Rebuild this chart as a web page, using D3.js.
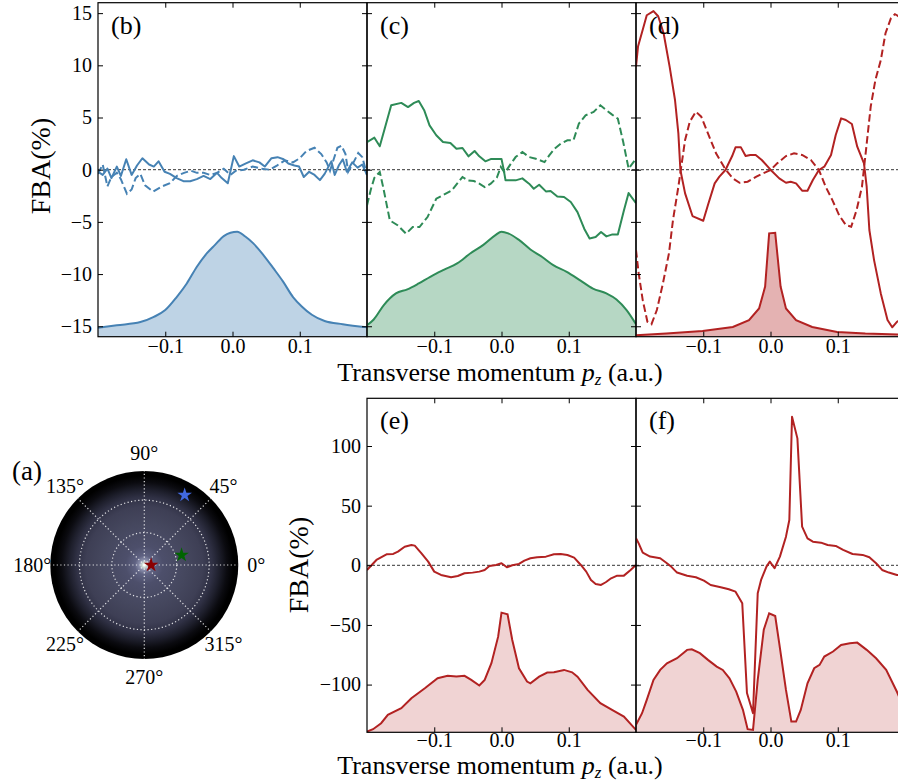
<!DOCTYPE html>
<html>
<head>
<meta charset="utf-8">
<script src="https://cdn.jsdelivr.net/npm/d3@7"></script>
<style>
  body { margin: 0; background: #fff; }
  svg { display: block; }
  text { font-family: "Liberation Serif", "Times New Roman", serif; fill: #000; }
  .tick text { font-size: 20px; font-family: "Liberation Serif", "Times New Roman", serif; }
</style>
</head>
<body>
<svg id="fig" width="898" height="782"></svg>
<script>
// ---- Forward–backward asymmetry (FBA, %) versus transverse momentum p_z (a.u.) ----
// Each series is a list of [p_z, value] pairs.

// (b) blue direction
const bSolid = [[-0.200,-0.2],[-0.193,-0.5],[-0.186,0.1],[-0.180,-0.8],[-0.172,0.3],[-0.166,-0.6],[-0.158,1.0],[-0.150,-0.5],[-0.142,0.4],[-0.134,1.1],[-0.124,0.5],[-0.117,0.3],[-0.110,0.8],[-0.101,-0.2],[-0.093,-0.4],[-0.083,-0.8],[-0.073,-1.1],[-0.063,-1.1],[-0.053,-0.9],[-0.043,-0.6],[-0.033,-0.9],[-0.023,-0.3],[-0.016,-0.8],[-0.007,-1.3],[0.002,1.3],[0.010,0.3],[0.020,0.6],[0.030,0.9],[0.040,0.7],[0.048,0.3],[0.058,1.1],[0.067,1.2],[0.076,1.0],[0.083,0.6],[0.092,0.4],[0.099,0.3],[0.106,-0.7],[0.114,-0.2],[0.122,-0.5],[0.130,-1.0],[0.137,-0.4],[0.147,0.8],[0.152,-0.5],[0.158,0.4],[0.164,1.0],[0.170,-0.2],[0.178,0.7],[0.186,0.2],[0.193,0.5],[0.200,-0.5]];
const bDashed = [[-0.200,-0.4],[-0.193,0.5],[-0.186,-1.6],[-0.180,-0.7],[-0.172,-0.3],[-0.166,-0.9],[-0.157,-2.3],[-0.150,-1.9],[-0.144,-0.8],[-0.137,-0.4],[-0.130,-1.5],[-0.118,-2.1],[-0.105,-1.6],[-0.093,-1.3],[-0.083,-0.6],[-0.072,-0.3],[-0.062,-0.1],[-0.053,-0.3],[-0.043,-0.3],[-0.033,-0.5],[-0.023,-0.3],[-0.013,0.1],[-0.003,-0.5],[0.005,-0.1],[0.017,0.0],[0.030,0.3],[0.043,0.1],[0.055,0.0],[0.066,0.4],[0.078,0.9],[0.090,0.7],[0.100,1.1],[0.110,1.8],[0.122,2.1],[0.132,1.5],[0.140,0.7],[0.145,-0.1],[0.150,0.9],[0.156,2.1],[0.162,2.3],[0.168,1.5],[0.172,-0.2],[0.180,0.7],[0.187,1.6],[0.193,1.2],[0.200,-0.5]];
const bDensity = [[-0.200,-15.15],[-0.172,-14.9],[-0.137,-14.6],[-0.117,-14.1],[-0.100,-13.45],[-0.083,-12.2],[-0.068,-10.9],[-0.053,-9.3],[-0.038,-8.0],[-0.026,-7.2],[-0.013,-6.36],[-0.003,-6.04],[0.007,-5.94],[0.019,-6.4],[0.031,-7.06],[0.046,-8.18],[0.061,-9.46],[0.075,-10.7],[0.090,-12.2],[0.103,-13.1],[0.118,-13.9],[0.137,-14.5],[0.164,-14.8],[0.200,-15.1]];

// (c) green direction
const cSolid = [[-0.200,2.65],[-0.189,3.07],[-0.181,2.24],[-0.173,4.09],[-0.164,6.17],[-0.149,6.4],[-0.139,6.0],[-0.130,6.4],[-0.123,6.58],[-0.115,5.7],[-0.107,4.25],[-0.097,3.3],[-0.087,2.65],[-0.076,2.56],[-0.067,2.0],[-0.058,2.08],[-0.049,1.28],[-0.040,1.79],[-0.033,1.28],[-0.024,0.8],[-0.016,1.02],[0.000,1.02],[0.003,0.1],[0.006,-1.02],[0.021,-1.02],[0.031,-0.83],[0.041,-1.34],[0.048,-1.82],[0.056,-1.44],[0.066,-2.08],[0.073,-2.04],[0.083,-2.56],[0.093,-2.62],[0.103,-3.1],[0.113,-4.06],[0.123,-5.65],[0.131,-6.6],[0.140,-6.45],[0.148,-5.97],[0.156,-6.39],[0.165,-6.2],[0.173,-6.2],[0.182,-3.9],[0.189,-2.24],[0.200,-3.2]];
const cDashed = [[-0.200,-3.42],[-0.194,-1.82],[-0.189,-0.77],[-0.181,-0.22],[-0.176,-1.66],[-0.166,-4.86],[-0.154,-5.34],[-0.142,-6.13],[-0.132,-5.5],[-0.122,-5.5],[-0.110,-4.54],[-0.097,-2.78],[-0.085,-2.36],[-0.074,-1.98],[-0.066,-1.34],[-0.058,-0.7],[-0.050,-1.02],[-0.041,-1.09],[-0.033,-1.34],[-0.025,-1.66],[-0.016,-1.34],[-0.007,-0.77],[-0.001,0.26],[0.005,-0.3],[0.014,0.58],[0.021,1.21],[0.031,1.69],[0.041,1.21],[0.051,1.05],[0.064,0.73],[0.071,1.37],[0.079,2.01],[0.088,2.49],[0.098,2.81],[0.107,2.81],[0.115,4.41],[0.125,5.21],[0.137,5.53],[0.147,6.17],[0.155,5.75],[0.164,5.3],[0.173,4.89],[0.181,2.65],[0.189,0.1],[0.200,1.05]];
const cDensity = [[-0.200,-14.9],[-0.190,-14.35],[-0.175,-12.97],[-0.157,-11.85],[-0.140,-11.47],[-0.123,-10.9],[-0.106,-10.26],[-0.086,-9.6],[-0.066,-8.98],[-0.046,-8.0],[-0.027,-7.2],[-0.009,-6.26],[0.000,-5.94],[0.010,-6.1],[0.025,-6.68],[0.043,-7.64],[0.060,-8.34],[0.077,-9.14],[0.097,-9.78],[0.117,-10.6],[0.136,-11.4],[0.156,-11.85],[0.171,-12.43],[0.186,-13.45],[0.200,-14.8]];

// (d) red direction, weak field
const dSolid = [[-0.200,9.87],[-0.197,11.8],[-0.190,13.4],[-0.184,14.8],[-0.174,15.2],[-0.167,14.7],[-0.159,13.1],[-0.150,9.87],[-0.142,6.68],[-0.137,3.48],[-0.134,-0.03],[-0.127,-2.27],[-0.116,-4.44],[-0.100,-4.89],[-0.093,-3.39],[-0.083,-1.31],[-0.076,-0.67],[-0.067,-0.03],[-0.057,1.31],[-0.052,2.14],[-0.044,2.14],[-0.037,1.31],[-0.030,1.41],[-0.022,1.41],[-0.013,0.93],[0.000,0.0],[0.013,-0.83],[0.023,-1.25],[0.030,-1.15],[0.038,-1.31],[0.047,-2.01],[0.055,-2.01],[0.063,-0.99],[0.072,-0.03],[0.080,0.29],[0.090,1.41],[0.097,3.32],[0.105,4.92],[0.112,4.76],[0.121,4.38],[0.129,2.2],[0.139,0.61],[0.143,-1.63],[0.147,-5.78],[0.154,-8.66],[0.164,-11.85],[0.174,-14.4],[0.181,-15.1],[0.188,-14.57],[0.200,-14.1]];
const dDashed = [[-0.200,-7.7],[-0.196,-9.94],[-0.190,-12.5],[-0.183,-14.57],[-0.177,-14.8],[-0.169,-13.45],[-0.160,-10.9],[-0.151,-8.02],[-0.145,-4.82],[-0.137,-1.63],[-0.132,0.61],[-0.127,2.84],[-0.120,4.6],[-0.111,5.56],[-0.103,5.08],[-0.093,3.48],[-0.081,1.57],[-0.067,0.03],[-0.056,-0.83],[-0.046,-1.25],[-0.034,-1.15],[-0.021,-0.67],[-0.011,-0.35],[0.000,-0.03],[0.010,0.61],[0.023,1.31],[0.035,1.57],[0.047,1.41],[0.060,0.93],[0.072,-0.03],[0.082,-1.63],[0.092,-2.91],[0.102,-4.35],[0.112,-5.3],[0.120,-5.46],[0.128,-3.87],[0.136,-1.63],[0.142,1.88],[0.149,6.04],[0.156,8.6],[0.164,10.5],[0.171,13.07],[0.179,14.5],[0.185,14.9],[0.188,14.8],[0.200,14.2]];
const dDensity = [[-0.200,-15.87],[-0.155,-15.7],[-0.101,-15.45],[-0.056,-15.07],[-0.032,-14.42],[-0.017,-13.3],[-0.008,-11.2],[-0.002,-6.1],[0.007,-6.05],[0.015,-11.2],[0.023,-13.3],[0.038,-14.42],[0.062,-15.07],[0.099,-15.55],[0.141,-15.7],[0.200,-15.82]];

// (e) red direction, stronger field
const eLine = [[-0.200,-3.9],[-0.186,4.47],[-0.171,9.2],[-0.161,9.5],[-0.154,11.45],[-0.144,15.6],[-0.134,17.0],[-0.129,16.5],[-0.119,10.05],[-0.109,3.07],[-0.100,-5.3],[-0.090,-8.1],[-0.075,-10.05],[-0.065,-8.94],[-0.055,-6.7],[-0.043,-6.14],[-0.033,-5.3],[-0.025,-3.9],[-0.018,-0.56],[-0.008,0.28],[0.000,1.68],[0.008,-1.68],[0.016,0.0],[0.026,1.12],[0.034,3.9],[0.043,5.87],[0.053,6.7],[0.066,7.26],[0.078,9.2],[0.088,9.5],[0.098,8.66],[0.108,6.42],[0.118,0.28],[0.126,-5.3],[0.133,-12.3],[0.140,-15.6],[0.148,-16.5],[0.155,-14.2],[0.163,-10.9],[0.172,-8.66],[0.182,-8.66],[0.192,-3.9],[0.200,0.28]];
const eDensity = [[-0.200,-139.4],[-0.191,-137.4],[-0.179,-132.4],[-0.169,-125.4],[-0.149,-119.8],[-0.134,-111.4],[-0.114,-103.1],[-0.095,-94.7],[-0.080,-92.7],[-0.067,-93.3],[-0.055,-92.7],[-0.045,-96.1],[-0.033,-100.8],[-0.025,-96.1],[-0.015,-82.1],[-0.005,-59.8],[0.000,-39.7],[0.009,-41.1],[0.016,-62.6],[0.026,-86.3],[0.038,-97.5],[0.043,-98.9],[0.056,-93.3],[0.068,-89.9],[0.078,-89.7],[0.093,-87.7],[0.105,-89.7],[0.113,-93.3],[0.128,-104.5],[0.147,-115.6],[0.167,-122.1],[0.182,-126.8],[0.200,-138]];

// (f) red direction, strongest field
const fLine = [[-0.200,22.6],[-0.196,18.4],[-0.190,10.6],[-0.179,7.3],[-0.164,5.9],[-0.154,1.7],[-0.147,-1.5],[-0.139,-6.1],[-0.124,-8.7],[-0.111,-10.0],[-0.099,-12.9],[-0.089,-16.5],[-0.074,-18.4],[-0.062,-20.1],[-0.052,-22.1],[-0.042,-31.8],[-0.035,-107],[-0.026,-124],[-0.019,-23.5],[-0.014,-12.3],[-0.006,-1.1],[-0.001,3.1],[0.006,-2.5],[0.014,7.3],[0.023,24.0],[0.028,38],[0.032,124.6],[0.040,106.4],[0.047,32.4],[0.055,22.6],[0.063,19.8],[0.075,19.0],[0.085,17.0],[0.097,16.2],[0.108,12.9],[0.122,9.5],[0.137,8.7],[0.147,6.7],[0.157,1.7],[0.166,-3.9],[0.176,-6.1],[0.188,-8.1],[0.200,-9.0]];
const fDensity = [[-0.200,-133.8],[-0.191,-124],[-0.184,-112.8],[-0.174,-96.1],[-0.164,-87.7],[-0.154,-82.1],[-0.139,-77.9],[-0.124,-70.9],[-0.117,-70.4],[-0.105,-73.7],[-0.093,-79.3],[-0.080,-84.9],[-0.071,-87.7],[-0.061,-94.7],[-0.051,-105.9],[-0.041,-121.2],[-0.034,-137.4],[-0.026,-138],[-0.019,-96],[-0.010,-54],[-0.002,-40.2],[0.007,-42.5],[0.013,-65.4],[0.023,-104.5],[0.031,-131],[0.038,-131],[0.045,-121.2],[0.055,-98.9],[0.065,-86.3],[0.073,-83.5],[0.080,-76.5],[0.093,-72.3],[0.105,-66.8],[0.118,-65.4],[0.129,-64.8],[0.143,-70.9],[0.157,-77.9],[0.172,-87.7],[0.188,-106],[0.200,-122]];

// Axis ticks
const pzDomain = [-0.2, 0.2];
const pzTicks = [-0.1, 0.0, 0.1];
const fbaDomainTop = [-16, 16];
const fbaTicksTop = [-15, -10, -5, 0, 5, 10, 15];
const fbaDomainBottom = [-140, 140];
const fbaTicksBottom = [-100, -50, 0, 50, 100];

// (a) polar momentum map: angle labels, rings (a.u.) and the three selected directions
const polarAngles = [0, 45, 90, 135, 180, 225, 270, 315];
const polarRings = [0.1, 0.2];
const polarMax = 0.29;
const markerAngle = [60, 15, 0];
const markerMomentum = [0.249, 0.119, 0.021];

// ---------------------------------------------------------------
const BLUE = "#4682b4", GREEN = "#2e8b57", RED = "#b22222";
const svg = d3.select("#fig");
const defs = svg.append("defs");

const TOP_Y = 2.7, ROW_H = 334, BOT_Y = 398.3, PW = 269;
const COLX = [98, 367, 636];

function drawPanel(cfg) {
  const { x0, y0, yDomain, yTicks, yLabels, name, color, fillOpacity, density, solid, dashed, smooth, xPad } = cfg;
  const x = d3.scaleLinear().domain(pzDomain).range([x0, x0 + PW]);
  const y = d3.scaleLinear().domain(yDomain).range([y0 + ROW_H, y0]);
  const clipId = "clip-" + name;
  defs.append("clipPath").attr("id", clipId)
    .append("rect").attr("x", x0).attr("y", y0).attr("width", PW).attr("height", ROW_H);

  const g = svg.append("g");
  const plot = g.append("g").attr("clip-path", `url(#${clipId})`);
  const curve = smooth ? d3.curveMonotoneX : d3.curveLinear;

  // momentum distribution (filled)
  plot.append("path").datum(density)
    .attr("d", d3.area().curve(curve).x(d => x(d[0])).y0(y(yDomain[0])).y1(d => y(d[1])))
    .attr("fill", color).attr("fill-opacity", fillOpacity).attr("stroke", "none");
  plot.append("path").datum(density)
    .attr("d", d3.line().curve(curve).x(d => x(d[0])).y(d => y(d[1])))
    .attr("fill", "none").attr("stroke", color).attr("stroke-width", 2);

  // zero reference
  plot.append("line")
    .attr("x1", x0).attr("x2", x0 + PW).attr("y1", y(0)).attr("y2", y(0))
    .attr("stroke", "#000").attr("stroke-width", 0.8).attr("stroke-dasharray", "3,2");

  const line = d3.line().x(d => x(d[0])).y(d => y(d[1]));
  if (dashed) {
    plot.append("path").datum(dashed).attr("d", line)
      .attr("fill", "none").attr("stroke", color).attr("stroke-width", 2)
      .attr("stroke-dasharray", "7.5,3.5");
  }
  if (solid) {
    plot.append("path").datum(solid).attr("d", line)
      .attr("fill", "none").attr("stroke", color).attr("stroke-width", 2)
      .attr("stroke-linejoin", "round");
  }

  // inward ticks on all four sides
  const fmtX = d3.format(".1f");
  const axB = g.append("g").attr("transform", `translate(0,${y0 + ROW_H})`)
    .call(d3.axisBottom(x).tickValues(pzTicks).tickSize(-5).tickPadding(xPad).tickFormat(fmtX));
  const axT = g.append("g").attr("transform", `translate(0,${y0})`)
    .call(d3.axisTop(x).tickValues(pzTicks).tickSize(-5).tickFormat(""));
  const axL = g.append("g").attr("transform", `translate(${x0},0)`)
    .call(d3.axisLeft(y).tickValues(yTicks).tickSize(-5).tickPadding(6)
      .tickFormat(yLabels ? d3.format("d") : ""));
  const axR = g.append("g").attr("transform", `translate(${x0 + PW},0)`)
    .call(d3.axisRight(y).tickValues(yTicks).tickSize(-5).tickFormat(""));
  [axB, axT, axL, axR].forEach(a => {
    a.attr("font-size", null).attr("font-family", null);
    a.select(".domain").remove();
    a.selectAll(".tick line").attr("stroke-width", 1);
  });

  // frame
  g.append("rect").attr("x", x0).attr("y", y0).attr("width", PW).attr("height", ROW_H)
    .attr("fill", "none").attr("stroke", "#000").attr("stroke-width", 1.2);

  g.append("text").attr("x", x0 + 13).attr("y", y0 + 31)
    .attr("font-size", 26).text(`(${name})`);
}

drawPanel({ x0: COLX[0], y0: TOP_Y, yDomain: fbaDomainTop, yTicks: fbaTicksTop, yLabels: true, name: "b",
  color: BLUE, fillOpacity: 0.35, density: bDensity, solid: bSolid, dashed: bDashed, smooth: true, xPad: 2 });
drawPanel({ x0: COLX[1], y0: TOP_Y, yDomain: fbaDomainTop, yTicks: fbaTicksTop, yLabels: false, name: "c",
  color: GREEN, fillOpacity: 0.35, density: cDensity, solid: cSolid, dashed: cDashed, smooth: true, xPad: 2 });
drawPanel({ x0: COLX[2], y0: TOP_Y, yDomain: fbaDomainTop, yTicks: fbaTicksTop, yLabels: false, name: "d",
  color: RED, fillOpacity: 0.35, density: dDensity, solid: dSolid, dashed: dDashed, smooth: false, xPad: 2 });
drawPanel({ x0: COLX[1], y0: BOT_Y, yDomain: fbaDomainBottom, yTicks: fbaTicksBottom, yLabels: true, name: "e",
  color: RED, fillOpacity: 0.2, density: eDensity, solid: eLine, dashed: null, smooth: false, xPad: 0 });
drawPanel({ x0: COLX[2], y0: BOT_Y, yDomain: fbaDomainBottom, yTicks: fbaTicksBottom, yLabels: false, name: "f",
  color: RED, fillOpacity: 0.2, density: fDensity, solid: fLine, dashed: null, smooth: false, xPad: 0 });

// axis titles
function xTitle(yBase) {
  const t = svg.append("text").attr("x", 500).attr("y", yBase).attr("text-anchor", "middle").attr("font-size", 26);
  t.append("tspan").text("Transverse momentum ");
  t.append("tspan").attr("font-style", "italic").text("p");
  t.append("tspan").attr("font-style", "italic").attr("font-size", 17).attr("dy", 4).text("z");
  t.append("tspan").attr("dy", -4).text(" (a.u.)");
}
xTitle(381);
xTitle(774);

function yTitle(xBase, yc) {
  svg.append("text").attr("transform", `translate(${xBase},${yc}) rotate(-90)`)
    .attr("text-anchor", "middle").attr("font-size", 28).text("FBA(%)");
}
yTitle(50, 166);
yTitle(308, 565);

// ---- (a) polar momentum map ----
const cx = 144.3, cy = 565, R = 94;
const rScale = d3.scaleLinear().domain([0, polarMax]).range([0, R]);

const grad = defs.append("radialGradient").attr("id", "pmap")
  .attr("cx", 0.5).attr("cy", 0.5).attr("r", 0.5);
[[0, "#f4fff4"], [0.025, "#cfdcd6"], [0.055, "#8a8eab"], [0.1, "#5f6282"], [0.2, "#4d4f6b"],
 [0.45, "#45475e"], [0.62, "#3e3f55"], [0.72, "#303145"], [0.8, "#1e1f2c"], [0.88, "#0b0b10"],
 [0.95, "#000"], [1, "#000"]].forEach(([o, c]) =>
  grad.append("stop").attr("offset", o).attr("stop-color", c));

const pg = svg.append("g");
pg.append("circle").attr("cx", cx).attr("cy", cy).attr("r", R).attr("fill", "url(#pmap)");

polarRings.forEach(r => {
  pg.append("circle").attr("cx", cx).attr("cy", cy).attr("r", rScale(r))
    .attr("fill", "none").attr("stroke", "#fff").attr("stroke-opacity", 0.85)
    .attr("stroke-width", 1.2).attr("stroke-dasharray", "1.2,2.4");
});
polarAngles.forEach(a => {
  const rad = a * Math.PI / 180;
  pg.append("line").attr("x1", cx).attr("y1", cy)
    .attr("x2", cx + R * Math.cos(rad)).attr("y2", cy - R * Math.sin(rad))
    .attr("stroke", "#fff").attr("stroke-opacity", 0.85)
    .attr("stroke-width", 1.2).attr("stroke-dasharray", "1.2,2.4");
  pg.append("text")
    .attr("x", cx + (R + 18) * Math.cos(rad)).attr("y", cy - (R + 18) * Math.sin(rad))
    .attr("text-anchor", "middle").attr("dominant-baseline", "central")
    .attr("font-size", 20).text(a + "°");
});

const markerColor = ["#4169e1", "#006400", "#8b0000"];
markerAngle.forEach((a, i) => {
  const rad = a * Math.PI / 180, r = rScale(markerMomentum[i]);
  pg.append("path")
    .attr("transform", `translate(${cx + r * Math.cos(rad)},${cy - r * Math.sin(rad)})`)
    .attr("d", d3.symbol().type(d3.symbolStar).size(66)())
    .attr("fill", markerColor[i]);
});

svg.append("text").attr("x", 12).attr("y", 480).attr("font-size", 27).text("(a)");
</script>
</body>
</html>
